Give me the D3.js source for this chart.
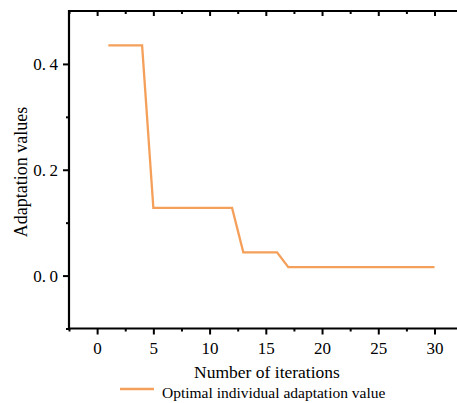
<!DOCTYPE html>
<html>
<head>
<meta charset="utf-8">
<script src="https://cdn.jsdelivr.net/npm/d3@7"></script>
<style>
  body { margin: 0; background: #fff; }
  text { font-family: "Liberation Serif", "Times New Roman", serif; fill: #000; }
</style>
</head>
<body>
<script>
var iterations = d3.range(1, 31);
var fitness = [0.435, 0.435, 0.435, 0.435,
  0.128, 0.128, 0.128, 0.128, 0.128, 0.128, 0.128, 0.128,
  0.044, 0.044, 0.044, 0.044,
  0.016, 0.016, 0.016, 0.016, 0.016, 0.016, 0.016,
  0.016, 0.016, 0.016, 0.016, 0.016, 0.016, 0.016];
var xTicks = [0, 5, 10, 15, 20, 25, 30];
var yTicks = [0.0, 0.2, 0.4];

var width = 457,
    height = 403;

var svg = d3.select("body").append("svg")
    .attr("width", width)
    .attr("height", height);

var x = d3.scaleLinear().domain([-2.5, 32]).range([69, 457]);
var y = d3.scaleLinear().domain([-0.1, 0.5]).range([328.5, 11]);

var lineColor = "#f5a05a";

//line
var line = d3.line()
    .x(function(d, i){ return x(iterations[i]); })
    .y(function(d){ return y(d); });

svg.append("path")
    .datum(fitness)
    .attr("fill", "none")
    .attr("stroke", lineColor)
    .attr("stroke-width", 2.3)
    .attr("d", line);

// minor ticks
var xMinor = d3.range(-2.5, 32, 5);
var yMinor = [-0.1, 0.1, 0.3];

function noDomain(g){ g.select(".domain").remove(); }

// bottom axis
var bottomAxis = svg.append("g").attr("transform", "translate(0," + y.range()[0] + ")");
bottomAxis.append("g")
    .call(d3.axisBottom(x).tickValues(xMinor).tickSize(3).tickFormat(""))
    .call(noDomain);
bottomAxis.append("g")
    .call(d3.axisBottom(x).tickValues(xTicks).tickSize(6).tickPadding(7))
    .call(noDomain);

// top axis (ticks inside)
var topAxis = svg.append("g").attr("transform", "translate(0," + y.range()[1] + ")");
topAxis.append("g")
    .call(d3.axisBottom(x).tickValues(xMinor).tickSize(3).tickFormat(""))
    .call(noDomain);
topAxis.append("g")
    .call(d3.axisBottom(x).tickValues(xTicks).tickSize(5).tickFormat(""))
    .call(noDomain);

// left axis
var leftAxis = svg.append("g").attr("transform", "translate(" + x.range()[0] + ",0)");
leftAxis.append("g")
    .call(d3.axisLeft(y).tickValues(yMinor).tickSize(3).tickFormat(""))
    .call(noDomain);
leftAxis.append("g")
    .call(d3.axisLeft(y).tickValues(yTicks).tickSize(6).tickPadding(5)
      .tickFormat(function(d){ return d.toFixed(1).replace(".", ".\u2009"); }))
    .call(noDomain);

svg.selectAll(".tick line").attr("stroke", "#000").attr("stroke-width", 2);
svg.selectAll(".tick text")
    .style("font-family", "'Liberation Serif', 'Times New Roman', serif")
    .style("font-size", "17px");

// axis lines
svg.append("path")
    .attr("d", "M" + x.range()[1] + "," + y.range()[1] + "H" + x.range()[0] + "V" + y.range()[0] + "H" + x.range()[1])
    .attr("fill", "none")
    .attr("stroke", "#000")
    .attr("stroke-width", 2.2);

// axis titles
svg.append("text")
    .attr("x", 267)
    .attr("y", 378)
    .attr("text-anchor", "middle")
    .style("font-size", "17.5px")
    .text("Number of iterations");

svg.append("text")
    .attr("transform", "translate(27,172) rotate(-90)")
    .attr("text-anchor", "middle")
    .style("font-size", "18px")
    .text("Adaptation values");

// legend
svg.append("line")
    .attr("x1", 120).attr("x2", 154)
    .attr("y1", 389).attr("y2", 389)
    .attr("stroke", lineColor)
    .attr("stroke-width", 2.3);
svg.append("text")
    .attr("x", 162)
    .attr("y", 397.5)
    .style("font-size", "15.5px")
    .text("Optimal individual adaptation value");
</script>
</body>
</html>
